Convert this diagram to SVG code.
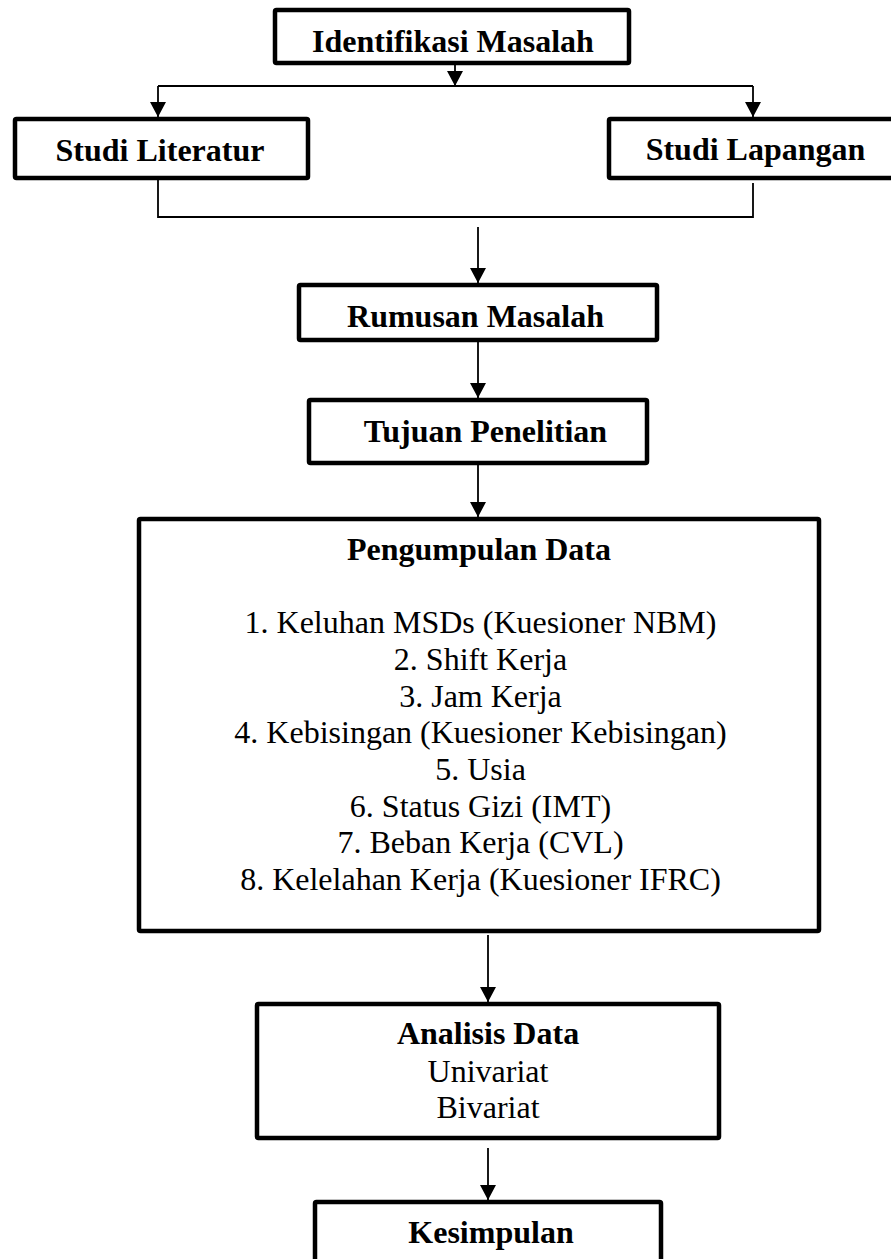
<svg xmlns="http://www.w3.org/2000/svg" width="891" height="1259" viewBox="0 0 891 1259">
<style>
.box{fill:#fff;stroke:#000;stroke-width:4.5;}
.conn{fill:none;stroke:#000;stroke-width:1.8;}
.b{font-family:'Liberation Serif','Tinos','Times New Roman','DejaVu Serif',serif;font-weight:bold;font-size:32px;text-anchor:middle;fill:#000;}
.r{font-family:'Liberation Serif','Tinos','Times New Roman','DejaVu Serif',serif;font-size:32px;text-anchor:middle;fill:#000;}
</style>
<defs>
<marker id="ah" markerUnits="userSpaceOnUse" markerWidth="16" markerHeight="16" refX="15" refY="8" orient="auto">
<path d="M0,0 L15,8 L0,16 z" fill="#000"/>
</marker>
</defs>
<rect width="891" height="1259" fill="#fff"/>
<g id="connectors">
<path class="conn" d="M455,65 L455,86" marker-end="url(#ah)"/>
<path class="conn" d="M158,86 L753,86"/>
<path class="conn" d="M158,86 L158,117" marker-end="url(#ah)"/>
<path class="conn" d="M753,86 L753,117" marker-end="url(#ah)"/>
<path class="conn" d="M158,180 L158,217 L753,217 L753,183"/>
<path class="conn" d="M478,227 L478,283" marker-end="url(#ah)"/>
<path class="conn" d="M478,342 L478,398" marker-end="url(#ah)"/>
<path class="conn" d="M478,465 L478,517" marker-end="url(#ah)"/>
<path class="conn" d="M488,935 L488,1002" marker-end="url(#ah)"/>
<path class="conn" d="M488,1148 L488,1200" marker-end="url(#ah)"/>
</g>
<g id="identifikasi">
<rect class="box" x="275" y="10" width="354" height="53" rx="1.5"/>
<text class="b" x="453" y="52">Identifikasi Masalah</text>
</g>
<g id="studi-literatur">
<rect class="box" x="15" y="119" width="293" height="59" rx="1.5"/>
<text class="b" x="160" y="161">Studi Literatur</text>
</g>
<g id="studi-lapangan">
<rect class="box" x="609" y="119" width="292" height="59" rx="1.5"/>
<text class="b" x="755.5" y="160">Studi Lapangan</text>
</g>
<g id="rumusan">
<rect class="box" x="299" y="285" width="358" height="55" rx="1.5"/>
<text class="b" x="475.5" y="327">Rumusan Masalah</text>
</g>
<g id="tujuan">
<rect class="box" x="309" y="400" width="338" height="63" rx="1.5"/>
<text class="b" x="485.5" y="442">Tujuan Penelitian</text>
</g>
<g id="pengumpulan">
<rect class="box" x="139" y="519" width="680" height="412" rx="1.5"/>
<text class="b" x="479" y="560">Pengumpulan Data</text>
<text class="r" x="480.5" y="633">1. Keluhan MSDs (Kuesioner NBM)</text>
<text class="r" x="480.5" y="670">2. Shift Kerja</text>
<text class="r" x="480.5" y="706.5">3. Jam Kerja</text>
<text class="r" x="480.5" y="743">4. Kebisingan (Kuesioner Kebisingan)</text>
<text class="r" x="480.5" y="780">5. Usia</text>
<text class="r" x="480.5" y="816.5">6. Status Gizi (IMT)</text>
<text class="r" x="480.5" y="853">7. Beban Kerja (CVL)</text>
<text class="r" x="480.5" y="890">8. Kelelahan Kerja (Kuesioner IFRC)</text>
</g>
<g id="analisis">
<rect class="box" x="257" y="1004" width="462" height="134" rx="1.5"/>
<text class="b" x="488" y="1044">Analisis Data</text>
<text class="r" x="488" y="1082">Univariat</text>
<text class="r" x="488" y="1118">Bivariat</text>
</g>
<g id="kesimpulan">
<rect class="box" x="315" y="1202" width="346" height="80" rx="1.5"/>
<text class="b" x="491" y="1243">Kesimpulan</text>
</g>
</svg>
